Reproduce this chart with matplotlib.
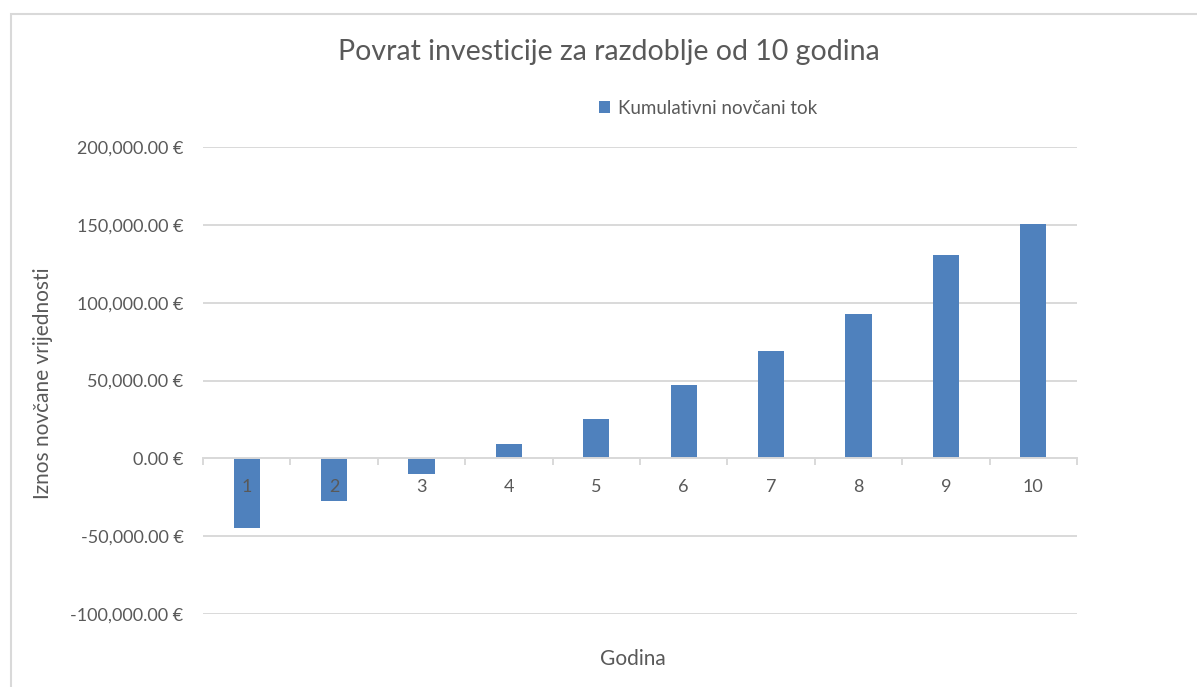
import matplotlib
matplotlib.use("Agg")
import matplotlib.pyplot as plt
from matplotlib.patches import Rectangle
from matplotlib.ticker import FuncFormatter, FixedLocator

YEARS = [1, 2, 3, 4, 5, 6, 7, 8, 9, 10]
CUMULATIVE = [-44500, -27500, -9800, 9000, 25500, 47000, 69000, 93000, 130300, 150300]
Y_TICKS = [-100000, -50000, 0, 50000, 100000, 150000, 200000]

TITLE = "Povrat investicije za razdoblje od 10 godina"
SERIES_LABEL = "Kumulativni novčani tok"
X_LABEL = "Godina"
Y_LABEL = "Iznos novčane vrijednosti"

BAR = "#4F81BD"
GRID = "#D9D9D9"
TEXT = "#595959"

plt.rcParams.update({
    "font.family": ["Lato", "DejaVu Sans"],
    "font.size": 13,
    "text.color": TEXT,
    "xtick.color": TEXT, "ytick.color": TEXT,
})

fig = plt.figure(figsize=(11.97, 6.87), dpi=100)
ax = fig.add_axes([203 / 1197, 1 - 614 / 687, (1077 - 203) / 1197, (614 - 147) / 687])

# light frame around the chart area
fig.patches.append(Rectangle((11 / 1197, -0.1), 1.2, 1 - 14 / 687 + 0.1,
                             transform=fig.transFigure, fill=False,
                             edgecolor=GRID, linewidth=1.5))

xs = list(range(len(YEARS)))
for y in Y_TICKS:
    ax.axhline(y, color=GRID, linewidth=1.4, zorder=0.5)
ax.bar(xs, CUMULATIVE, width=0.30, color=BAR, label=SERIES_LABEL, zorder=1)

ax.set_xlim(-0.5, len(YEARS) - 0.5)
ax.set_ylim(-100000, 200000)
ax.set_yticks(Y_TICKS)
ax.yaxis.set_major_formatter(FuncFormatter(lambda v, p: f"{v:,.2f} €"))
ax.tick_params(axis="y", length=0, pad=14, labelsize=13)

ax.spines["bottom"].set_position(("data", 0))
ax.spines["bottom"].set_color(GRID)
ax.spines["bottom"].set_linewidth(1.4)
for s in ("left", "right", "top"):
    ax.spines[s].set_visible(False)
ax.set_xticks(xs)
ax.set_xticklabels([str(y) for y in YEARS])
ax.xaxis.set_minor_locator(FixedLocator([i - 0.5 for i in range(len(YEARS) + 1)]))
ax.tick_params(axis="x", which="major", length=0, pad=15, labelsize=13)
ax.tick_params(axis="x", which="minor", length=5, width=1.4, color=GRID)

fig.text(609 / 1197, 1 - 52 / 687, TITLE, ha="center", va="center", fontsize=20.5, color=TEXT)
fig.text(633 / 1197, 1 - 659 / 687, X_LABEL, ha="center", va="center", fontsize=15, color=TEXT)
fig.text(43 / 1197, 1 - 383 / 687, Y_LABEL, ha="center", va="center", rotation=90,
         fontsize=15, color=TEXT)

fig.legend(loc="center", bbox_to_anchor=(708 / 1197, 1 - 108 / 687), frameon=False,
           fontsize=13.5, handlelength=0.6, handleheight=0.6, handletextpad=0.4)

fig.savefig("out.png", dpi=100, facecolor="white")
